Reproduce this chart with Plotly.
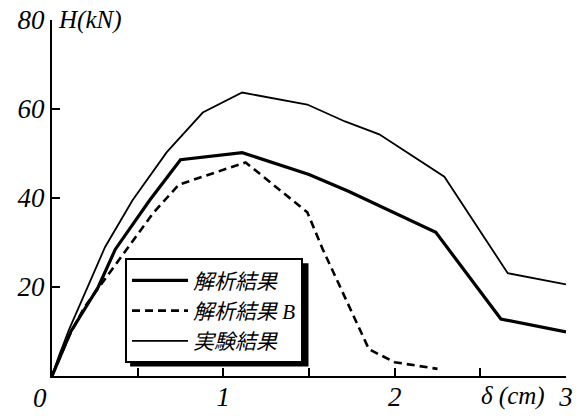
import plotly.graph_objects as go

# Horizontal load H (kN) versus displacement delta (cm)
x_ana = [0, 0.11, 0.27, 0.37, 0.57, 0.75, 1.11, 1.36, 1.50, 1.73, 2.05, 2.24, 2.62, 3.0]
y_ana = [0, 10, 20, 28.5, 39.5, 48.6, 50.2, 47.1, 45.3, 41.5, 35.7, 32.3, 12.8, 9.9]

x_b = [0, 0.10, 0.19, 0.39, 0.59, 0.74, 1.13, 1.49, 1.58, 1.85, 2.0, 2.25]
y_b = [0, 9, 15.5, 26, 36.6, 43.0, 48.0, 36.8, 28.5, 6.0, 3.1, 1.6]

x_exp = [0, 0.04, 0.10, 0.21, 0.31, 0.47, 0.67, 0.88, 1.11, 1.49, 1.71, 1.91, 2.29, 2.66, 3.0]
y_exp = [0, 4.5, 10.5, 20, 29, 39.5, 50.3, 59.2, 63.7, 61.0, 57.2, 54.3, 44.8, 23.1, 20.6]

names = ["解析結果", "解析結果 <i>B</i>", "実験結果"]

x_tickvals = [0.5, 1, 1.5, 2, 2.5, 3]
x_ticktext = ["", "<i>1</i>", "", "<i>2</i>", "", "<i>3</i>"]
y_tickvals = [20, 40, 60, 80]
y_ticktext = ["<i>20</i>", "<i>40</i>", "<i>60</i>", "<i>80</i>"]

serif = "Liberation Serif, Times New Roman, serif"
legend_font = "Liberation Serif, Noto Sans CJK JP, serif"

fig = go.Figure()
fig.add_trace(go.Scatter(x=x_ana, y=y_ana, mode="lines", name=names[0],
                         line=dict(color="black", width=3.2)))
fig.add_trace(go.Scatter(x=x_b, y=y_b, mode="lines", name=names[1],
                         line=dict(color="black", width=2.6, dash="8px,5px")))
fig.add_trace(go.Scatter(x=x_exp, y=y_exp, mode="lines", name=names[2],
                         line=dict(color="black", width=1.8)))

# legend box position (paper coords) and its drop shadow
lx0, ly1 = 0.142, 0.331
fig.add_shape(type="rect", xref="paper", yref="paper",
              x0=0.152, x1=0.499,
              y0=0.027, y1=0.317,
              fillcolor="black", line=dict(width=0), layer="above")

axis_common = dict(showgrid=False, zeroline=False, automargin=False,
                   showline=True, linecolor="black", linewidth=2,
                   ticks="inside", ticklen=8, tickwidth=2, tickcolor="black",
                   tickfont=dict(family=serif, size=27, color="black", style="italic"))

fig.update_layout(
    width=581, height=416,
    margin=dict(l=52, r=15, t=20, b=40, autoexpand=False),
    plot_bgcolor="white", paper_bgcolor="white",
    showlegend=True,
    legend=dict(x=lx0, y=ly1, xanchor="left", yanchor="top",
                bgcolor="white", bordercolor="black", borderwidth=2,
                font=dict(family=legend_font, size=21, color="black", style="italic"),
                itemwidth=56, tracegroupgap=0),
    xaxis=dict(range=[0, 3], tickvals=x_tickvals, ticktext=x_ticktext,
               ticklabelstandoff=-4, **axis_common),
    yaxis=dict(range=[0, 80], tickvals=y_tickvals, ticktext=y_ticktext, **axis_common),
    annotations=[
        dict(text="<i>0</i>", x=0, y=0, xref="x", yref="y", xanchor="center", yanchor="top",
             xshift=-12, yshift=-5, showarrow=False,
             font=dict(family=serif, size=27, color="black")),
        dict(text="<i>H(kN)</i>", x=0.008, y=1.0, xref="paper", yref="paper",
             xanchor="left", yanchor="middle", showarrow=False,
             font=dict(family=serif, size=25, color="black")),
        dict(text="<i>δ (cm)</i>", x=0.897, y=-0.056, xref="paper", yref="paper",
             xanchor="center", yanchor="middle", showarrow=False,
             font=dict(family=serif, size=25, color="black")),
    ],
)

fig.write_html("out.html")
